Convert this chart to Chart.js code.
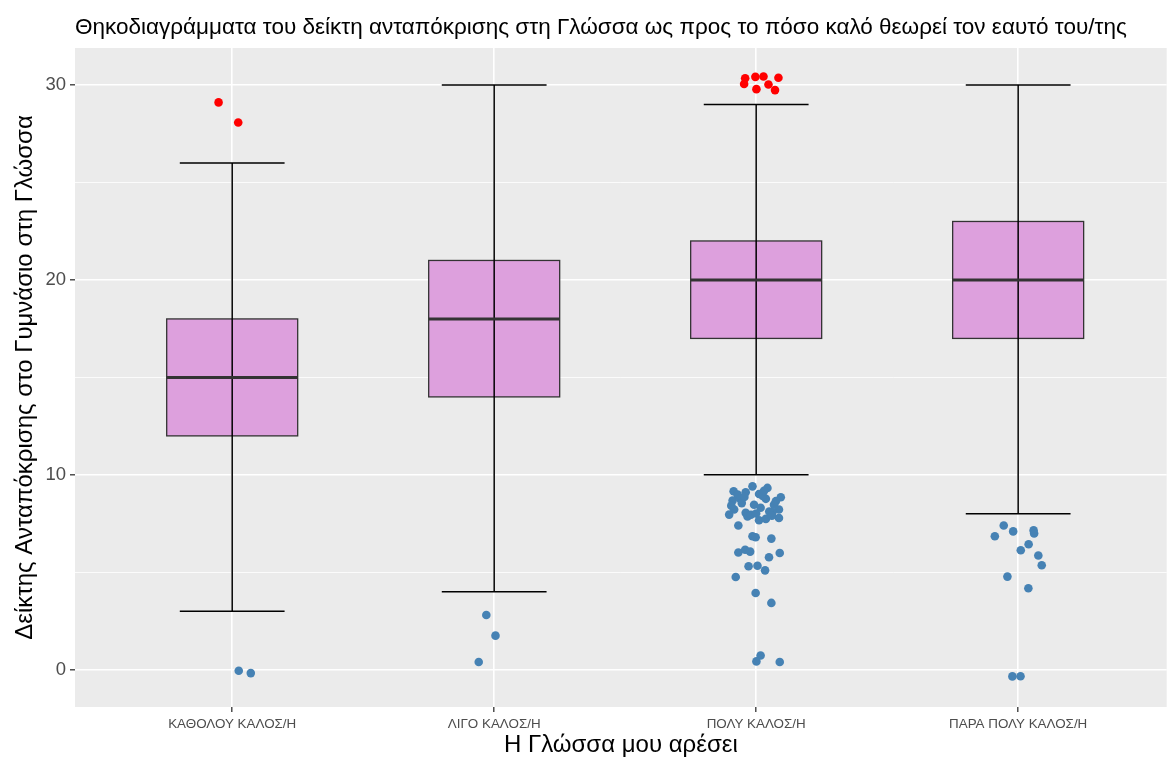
<!DOCTYPE html>
<html lang="el">
<head>
    <meta charset="UTF-8">
    <title>Θηκοδιαγράμματα</title>
    <script src="https://cdn.jsdelivr.net/npm/chart.js"></script>
    <style>
        body { margin: 0; background: #fff; overflow: hidden; }
        canvas { display: block; }
    </style>
</head>
<body>
<canvas id="boxChart" width="1171" height="760"></canvas>

<script>
    // Categories on the x axis
    const categories = ['ΚΑΘΟΛΟΥ ΚΑΛΟΣ/Η', 'ΛΙΓΟ ΚΑΛΟΣ/Η', 'ΠΟΛΥ ΚΑΛΟΣ/Η', 'ΠΑΡΑ ΠΟΛΥ ΚΑΛΟΣ/Η'];

    // Box statistics per category
    const whiskerLow  = [3, 4, 10, 8];
    const q1          = [12, 14, 17, 17];
    const median      = [15, 18, 20, 20];
    const q3          = [18, 21, 22, 23];
    const whiskerHigh = [26, 30, 29, 30];

    // Tick labels on the y axis
    const yTicks = [0, 10, 20, 30];

    // Outliers above the upper whisker (value, jitter in category units)
    const highValues = [
        [29.11, 28.08],
        [],
        [30.35, 30.05, 30.42, 30.44, 30.37, 29.79, 30.03, 29.74],
        []
    ];
    const highJitter = [
        [-0.052, 0.023],
        [],
        [-0.042, -0.046, -0.003, 0.028, 0.085, 0.001, 0.047, 0.072],
        []
    ];

    // Outliers below the lower whisker
    const lowValues = [
        [-0.05, -0.17],
        [2.81, 1.75, 0.40],
        [9.16, 8.99, 9.11, 9.41, 9.33, 9.02, 8.85, 8.68, 8.77, 8.77, 8.47, 8.31, 8.47, 8.22,
         8.22, 7.96, 8.05, 7.87, 8.08, 7.79, 7.67, 7.74, 7.40, 6.85, 6.80, 6.73, 6.02, 6.16,
         6.06, 5.77, 5.99, 5.31, 5.34, 5.10, 4.76, 3.94, 3.43, 0.73, 0.43, 0.40,
         8.55, 8.92, 8.12, 7.95, 8.65, 8.42, 8.02, 9.18, 8.86, 7.90],
        [7.40, 6.85, 7.10, 7.15, 6.99, 6.44, 6.13, 5.86, 5.36, 4.78, 4.18, -0.34, -0.33]
    ];
    const lowJitter = [
        [0.025, 0.071],
        [-0.030, 0.005, -0.059],
        [-0.086, -0.071, -0.040, -0.014, 0.043, 0.011, 0.094, -0.090, -0.061, 0.037, -0.008, 0.017, 0.068, 0.087,
         -0.084, -0.103, -0.040, -0.033, 0.062, 0.087, 0.011, 0.037, -0.068, -0.014, -0.002, 0.058, -0.068, -0.042,
         -0.023, 0.049, 0.090, -0.029, 0.005, 0.034, -0.078, -0.002, 0.058, 0.017, 0.001, 0.090,
         -0.055, 0.025, 0.050, -0.020, 0.075, -0.095, 0.000, 0.030, -0.045, 0.060],
        [-0.055, -0.089, -0.019, 0.059, 0.061, 0.040, 0.010, 0.077, 0.090, -0.041, 0.039, -0.022, 0.009]
    ];

    function toPoints(values, jitter) {
        const pts = [];
        values.forEach((vals, i) => {
            vals.forEach((v, j) => pts.push({ x: i + 1 + jitter[i][j], y: v }));
        });
        return pts;
    }

    // grey panel behind everything
    const panelBackground = {
        id: 'panelBackground',
        beforeDraw(chart) {
            const { ctx, chartArea: a } = chart;
            ctx.save();
            ctx.fillStyle = '#EBEBEB';
            ctx.fillRect(a.left, a.top, a.right - a.left, a.bottom - a.top);
            ctx.restore();
        }
    };

    // boxes + error bars, drawn through the scales
    const boxPlot = {
        id: 'boxPlot',
        beforeDatasetsDraw(chart) {
            const { ctx } = chart;
            const xs = chart.scales.x, ys = chart.scales.y;
            ctx.save();
            categories.forEach((c, i) => {
                const xc = xs.getPixelForValue(i + 1);
                const xl = xs.getPixelForValue(i + 1 - 0.25);
                const xr = xs.getPixelForValue(i + 1 + 0.25);
                const yq1 = ys.getPixelForValue(q1[i]);
                const yq3 = ys.getPixelForValue(q3[i]);
                const ym = ys.getPixelForValue(median[i]);

                ctx.fillStyle = '#DDA0DD';
                ctx.fillRect(xl, yq3, xr - xl, yq1 - yq3);
                ctx.strokeStyle = '#333333';
                ctx.lineWidth = 1.3;
                ctx.strokeRect(xl, yq3, xr - xl, yq1 - yq3);

                // error bar
                const cl = xs.getPixelForValue(i + 1 - 0.2);
                const cr = xs.getPixelForValue(i + 1 + 0.2);
                const yl = ys.getPixelForValue(whiskerLow[i]);
                const yh = ys.getPixelForValue(whiskerHigh[i]);
                ctx.strokeStyle = '#000000';
                ctx.lineWidth = 1.5;
                ctx.beginPath();
                ctx.moveTo(xc, yl); ctx.lineTo(xc, yh);
                ctx.moveTo(cl, yl); ctx.lineTo(cr, yl);
                ctx.moveTo(cl, yh); ctx.lineTo(cr, yh);
                ctx.stroke();

                // median
                ctx.strokeStyle = '#333333';
                ctx.lineWidth = 3;
                ctx.beginPath();
                ctx.moveTo(xl, ym); ctx.lineTo(xr, ym);
                ctx.stroke();
            });
            ctx.restore();
        }
    };

    const ctx = document.getElementById('boxChart').getContext('2d');
    new Chart(ctx, {
        type: 'scatter',
        data: {
            datasets: [
                {
                    data: toPoints(lowValues, lowJitter),
                    backgroundColor: '#4682B4',
                    pointRadius: 4.3,
                    borderWidth: 0
                },
                {
                    data: toPoints(highValues, highJitter),
                    backgroundColor: '#FF0000',
                    pointRadius: 4.3,
                    borderWidth: 0
                }
            ]
        },
        options: {
            responsive: false,
            animation: false,
            devicePixelRatio: 1,
            layout: { padding: 0 },
            plugins: {
                legend: { display: false },
                tooltip: { enabled: false },
                title: {
                    display: true,
                    text: 'Θηκοδιαγράμματα του δείκτη ανταπόκρισης στη Γλώσσα ως προς το πόσο καλό θεωρεί τον εαυτό του/της',
                    align: 'start',
                    fullSize: false,
                    color: '#000',
                    font: { family: 'Liberation Sans', size: 22.5, weight: 'normal' },
                    padding: { top: 14, bottom: 7 }
                }
            },
            scales: {
                x: {
                    type: 'linear',
                    min: 0.4,
                    max: 4.567,
                    afterBuildTicks(scale) {
                        scale.ticks = categories.map((c, i) => ({ value: i + 1 }));
                    },
                    afterFit(scale) { scale.height = 53; },
                    border: { display: false },
                    grid: {
                        color: '#FFFFFF',
                        lineWidth: 1.6,
                        tickColor: '#333333',
                        tickLength: 5,
                        tickWidth: 1.3
                    },
                    ticks: {
                        callback: (v) => categories[v - 1],
                        color: '#4D4D4D',
                        padding: 4,
                        maxRotation: 0,
                        font: { family: 'Liberation Sans', size: 13.4 }
                    },
                    title: {
                        display: true,
                        text: 'Η Γλώσσα μου αρέσει',
                        color: '#000',
                        font: { family: 'Liberation Sans', size: 24 },
                        padding: { top: 0, bottom: 0 }
                    }
                },
                y: {
                    min: -1.91,
                    max: 31.9,
                    afterBuildTicks(scale) {
                        scale.ticks = [0, 5, 10, 15, 20, 25, 30].map(v => ({ value: v }));
                    },
                    afterFit(scale) { scale.width = 75; },
                    border: { display: false },
                    grid: {
                        color: '#FFFFFF',
                        lineWidth: (c) => yTicks.includes(c.tick.value) ? 1.6 : 0.8,
                        tickColor: (c) => yTicks.includes(c.tick.value) ? '#333333' : 'rgba(0,0,0,0)',
                        tickLength: 5,
                        tickWidth: 1.3
                    },
                    ticks: {
                        callback: (v) => yTicks.includes(v) ? String(v) : '',
                        color: '#4D4D4D',
                        padding: 4,
                        font: { family: 'Liberation Sans', size: 18.5 }
                    },
                    title: {
                        display: true,
                        text: 'Δείκτης Ανταπόκρισης στο Γυμνάσιο στη Γλώσσα',
                        color: '#000',
                        font: { family: 'Liberation Sans', size: 24 },
                        padding: { top: 11, bottom: 0 }
                    }
                }
            }
        },
        plugins: [panelBackground, boxPlot]
    });
</script>
</body>
</html>
